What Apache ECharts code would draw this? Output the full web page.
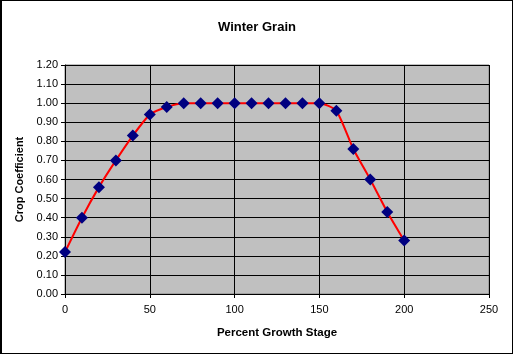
<!DOCTYPE html>
<html>
<head>
<meta charset="utf-8">
<script src="https://cdn.jsdelivr.net/npm/echarts@6/dist/echarts.min.js"></script>
<style>
  html, body { margin: 0; padding: 0; background: #fff; }
  #chart { width: 513px; height: 354px; box-sizing: border-box; border: 1px solid #000; border-left-width: 2px; }
</style>
</head>
<body>
<div id="chart"></div>
<script>
"use strict"
// growth stage (%) and crop coefficient
const growthStage = [0, 10, 20, 30, 40, 50, 60, 70, 80, 90, 100, 110, 120, 130, 140, 150, 160, 170, 180, 190, 200];
const cropCoef = [0.22, 0.40, 0.56, 0.70, 0.83, 0.94, 0.98, 1.00, 1.00, 1.00, 1.00, 1.00, 1.00, 1.00, 1.00, 1.00, 0.96, 0.76, 0.60, 0.43, 0.28];

const chart = echarts.init(document.getElementById('chart'), null, { renderer: 'canvas' });

const font = 'Arial, "Liberation Sans", sans-serif';
const points = growthStage.map(function (x, i) { return [x, cropCoef[i]]; });

const option = {
    animation: false,
    backgroundColor: '#fff',
    title: {
        text: 'Winter Grain',
        left: 'center',
        top: 15,
        textStyle: { fontFamily: font, fontSize: 13, fontWeight: 'bold', color: '#000' }
    },
    grid: {
        left: 63, right: 23, top: 64, bottom: 59,
        show: true,
        backgroundColor: '#c0c0c0',
        borderColor: '#808080',
        borderWidth: 1
    },
    xAxis: {
        type: 'value',
        min: 0, max: 250, interval: 50,
        name: 'Percent Growth Stage',
        nameLocation: 'middle',
        nameGap: 33,
        nameTextStyle: { fontFamily: font, fontSize: 11.5, fontWeight: 'bold', color: '#000' },
        axisLine: { show: true, lineStyle: { color: '#000', width: 1 } },
        axisTick: { show: true, length: 4, lineStyle: { color: '#000' } },
        axisLabel: { fontFamily: font, fontSize: 11, color: '#000', margin: 10 },
        splitLine: { show: true, lineStyle: { color: '#000', width: 1 } }
    },
    yAxis: {
        type: 'value',
        min: 0, max: 1.2, interval: 0.1,
        name: 'Crop Coefficient',
        nameLocation: 'middle',
        nameGap: 37,
        nameTextStyle: { fontFamily: font, fontSize: 11, fontWeight: 'bold', color: '#000' },
        axisLine: { show: true, lineStyle: { color: '#000', width: 1 } },
        axisTick: { show: true, length: 4, lineStyle: { color: '#000' } },
        axisLabel: {
            fontFamily: font, fontSize: 11, color: '#000', margin: 7,
            formatter: function (v) { return v.toFixed(2); }
        },
        splitLine: { show: true, lineStyle: { color: '#000', width: 1 } }
    },
    series: [{
        type: 'line',
        data: points,
        smooth: 0.2,
        symbol: 'diamond',
        symbolSize: 12,
        itemStyle: { color: '#000080' },
        lineStyle: { color: '#ff0000', width: 2 }
    }]
};

chart.setOption(option);
console.log('chart done');
</script>
</body>
</html>
